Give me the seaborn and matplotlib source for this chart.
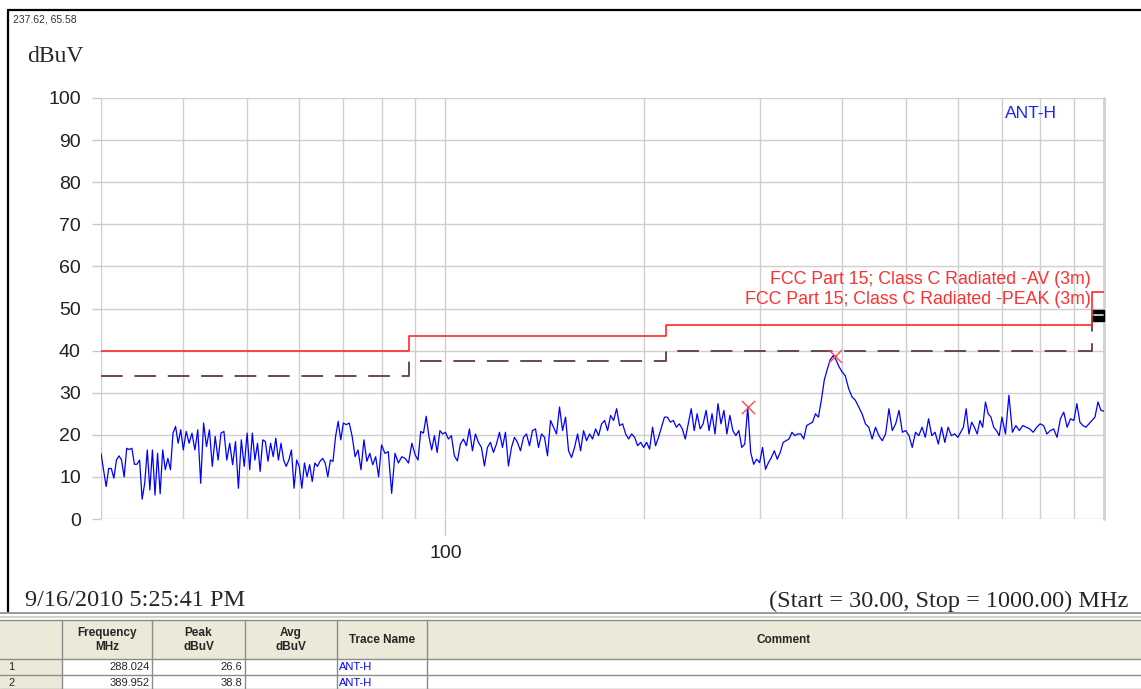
import numpy as np
import pandas as pd
import seaborn as sns
import matplotlib.pyplot as plt
from matplotlib.lines import Line2D
from matplotlib.patches import Rectangle

# ANT-H trace readings (dBuV), grouped by the grid decades they fall in
ANT_H_30_40 = [15.6, 11.7, 7.7, 12, 12, 9.7, 14, 15, 14, 10, 16.8, 16.5, 16.8, 13, 13, 14,
               4.7, 8.5, 16.4, 6.9, 16.4, 5.7, 15.6, 6, 16.4, 11.7, 14.4, 11.7, 20.4, 22, 18, 21.2]
ANT_H_40_50 = [16.4, 20.8, 18, 20.4, 16.4, 21.2, 8.5, 22.8, 17.2, 21.2, 12.5, 19.6, 14, 20.4,
               20.8, 14, 18, 12.9, 18.4, 7.3, 18.8, 12.5]
ANT_H_50_60 = [20.4, 11.7, 20.4, 14, 18, 11.3, 18.8, 18.4, 13.7, 18, 14.8, 19.2, 14, 18, 14,
               12.5, 14, 16.4, 7.3, 14]
ANT_H_60_70 = [12.5, 7.3, 13.3, 10, 12.9, 8.9, 13.3, 12.5, 13.7, 14.4, 13.3, 10, 14, 13.7,
               19.6, 23.2, 18.8]
ANT_H_70_80 = [22.8, 22.4, 22.8, 19.6, 14.8, 16.4, 11.7, 18.8, 13.7, 15.6, 12.9, 14.8, 10]
ANT_H_80_90 = [17.6, 15.6, 16, 6.1, 15.6, 13.3, 14.8, 14.4, 13.3, 18]
ANT_H_90_100 = [15.2, 14, 20.8, 20.4, 24.4, 19.6, 16.4, 19.8, 15.8, 21, 20.2]
ANT_H_100_200 = [20.6, 19, 19.8, 15, 13.8, 17.8, 19, 17.4, 21.4, 16.2, 20.2, 18.2, 17, 12.6,
                 17, 18.2, 15.8, 17.8, 20.6, 17, 20.6, 12.6, 17, 19.4, 18.2, 16.2, 19.4, 20.2,
                 17.4, 21, 21.4, 17, 20.2, 19.4, 15, 23.4, 21.8, 20.2, 26.6, 21, 24.2, 16.2,
                 14.6, 17, 20.2, 16.2, 21, 18.6, 20.2, 19, 21.4, 19.8, 22.6, 23.4, 21, 24.6,
                 23.4, 26.2, 22.2, 22.6, 20.2, 19, 20.2, 19.4, 17.4, 18.2]
ANT_H_200_300 = [17, 18.2, 16.6, 21.8, 17.4, 19.4, 21.8, 24.2, 24.2, 23, 23.4, 21.8, 22.6,
                 21.4, 19, 22.6, 26.2, 21, 25, 21.4, 22.6, 25.8, 21, 25, 20.2, 27.4, 22.6,
                 25.8, 20.2, 24.6, 21, 19.8, 21, 17, 17.8, 26.6, 15.8, 13, 14.2]
ANT_H_300_400 = [13.4, 17, 11.8, 13.4, 14.6, 16.2, 14.2, 15.8, 18.2, 18.6, 19, 20.6, 19.8,
                 20.2, 20.2, 19, 22.2, 22.6, 23, 25, 24.2, 28.2, 33, 35.5, 37.8, 38.8, 37.8, 36.2]
ANT_H_400_500 = [35, 34, 31, 29, 28.2, 26.6, 25, 22.6, 21.8, 19, 21.8, 19.8, 18.6, 20.2, 26.2,
                 21, 22.6, 25.8, 20.6]
ANT_H_500_600 = [21, 19.8, 17, 20.6, 19.8, 21.8, 19.4, 23.8, 19.8, 20.6, 17.8, 21.8, 18.2,
                 21.8, 19.8, 20.2]
ANT_H_600_700 = [19.4, 20.6, 21.8, 26.2, 20.2, 23, 21.8, 20.2, 23.4, 21.8, 27.8, 25, 24.2,
                 21.8, 21, 19.8]
ANT_H_700_800 = [24.2, 20.2, 29.4, 20.6, 22.2, 21, 22.2, 21.8, 21.4, 20.6, 21.8]
ANT_H_800_900 = [22.6, 22.2, 20.2, 21, 21.4, 19.4, 23.8, 25.4, 21.8, 23.8]
ANT_H_900_1000 = [23.4, 27.4, 23, 22.2, 21.8, 22.6, 23.4, 24.2, 27.8, 25.8, 25.6]

SEGMENTS = [
    (30, 40, ANT_H_30_40), (40, 50, ANT_H_40_50), (50, 60, ANT_H_50_60),
    (60, 70, ANT_H_60_70), (70, 80, ANT_H_70_80), (80, 90, ANT_H_80_90),
    (90, 100, ANT_H_90_100), (100, 200, ANT_H_100_200), (200, 300, ANT_H_200_300),
    (300, 400, ANT_H_300_400), (400, 500, ANT_H_400_500), (500, 600, ANT_H_500_600),
    (600, 700, ANT_H_600_700), (700, 800, ANT_H_700_800), (800, 900, ANT_H_800_900),
    (900, 1000, ANT_H_900_1000),
]

# FCC limit lines (step edges in MHz)
LIMIT_EDGES_MHZ = [30, 88, 216, 960, 1000]
PEAK_LIMIT_DBUV = [40, 43.5, 46, 54]
AV_LIMIT_DBUV = [34, 37.5, 40, 48]

# marker table
MARKER_FREQ_MHZ = [288.024, 389.952]
MARKER_PEAK_DBUV = [26.6, 38.8]
MARKER_TRACE = ["ANT-H", "ANT-H"]

X_MINOR = [30, 40, 50, 60, 70, 80, 90, 200, 300, 400, 500, 600, 700, 800, 900, 1000]
TABLE_HEADERS = ["Frequency\nMHz", "Peak\ndBuV", "Avg\ndBuV", "Trace Name", "Comment"]

W, H = 1141, 689


def fx(x):
    return x / W


def fy(y):
    return 1 - y / H


sns.set_theme(style="white")
plt.rcParams["font.family"] = ["Liberation Sans", "DejaVu Sans"]

frames = []
for i, (lo, hi, levels) in enumerate(SEGMENTS):
    last = i == len(SEGMENTS) - 1
    freqs = np.geomspace(lo, hi, len(levels), endpoint=last)
    frames.append(pd.DataFrame({"freq": freqs, "level": levels}))
trace = pd.concat(frames, ignore_index=True)

limits = pd.DataFrame({
    "freq": LIMIT_EDGES_MHZ,
    "peak": PEAK_LIMIT_DBUV + PEAK_LIMIT_DBUV[-1:],
    "av": AV_LIMIT_DBUV + AV_LIMIT_DBUV[-1:],
})

fig = plt.figure(figsize=(W / 100, H / 100), dpi=100)
fig.patch.set_facecolor("white")
ax = fig.add_axes([fx(101), fy(519), fx(1104) - fx(101), fy(98) - fy(519)])
ax.set_xscale("log")

sns.lineplot(data=limits, x="freq", y="av", ax=ax, color="#5e3c3c", lw=1.3,
             drawstyle="steps-post", estimator=None, sort=False, dashes=False,
             linestyle=(0, (12, 6.5)))
sns.lineplot(data=limits, x="freq", y="peak", ax=ax, color="#ff2a2a", lw=1.2,
             drawstyle="steps-post", estimator=None, sort=False)
sns.lineplot(data=trace, x="freq", y="level", ax=ax, color="#0000ff", lw=0.9,
             estimator=None, sort=False)
ax.scatter(MARKER_FREQ_MHZ, MARKER_PEAK_DBUV, marker="x", s=90, color="#ff4a4a",
           linewidths=1.0, zorder=5)

ax.set_xlim(30, 1000)
ax.set_ylim(0, 100)
ax.set_xlabel("")
ax.set_ylabel("")
for sp in ax.spines.values():
    sp.set_visible(False)
ax.set_axisbelow(True)

ax.set_yticks(range(0, 101, 10))
ax.set_xticks([100], ["100"])
ax.set_xticks(X_MINOR, minor=True)
ax.xaxis.set_minor_formatter(plt.NullFormatter())
ax.tick_params(axis="x", which="minor", length=0, bottom=False)
ax.tick_params(axis="x", which="major", bottom=True, length=11.5, width=1, color="#c8c8c8",
               pad=7, labelsize=14, labelcolor="#222222")
ax.tick_params(axis="y", left=True, length=6.5, width=1, color="#c8c8c8", pad=8,
               labelsize=14, labelcolor="#222222")
ax.grid(True, which="both", axis="both", color="#cfcfcf", lw=1.0)
ax.axvline(1000, color="#d0d0d0", lw=2.0, clip_on=False, zorder=1)

# text annotations
fig.text(fx(1005), fy(113), "ANT-H", color="#2020ff", fontsize=12.5, va="center")
fig.text(fx(1091), fy(280), "FCC Part 15; Class C Radiated -AV (3m)", color="#ff3030",
         fontsize=12.8, ha="right", va="center")
fig.text(fx(1091), fy(299), "FCC Part 15; Class C Radiated -PEAK (3m)", color="#ff3030",
         fontsize=12.8, ha="right", va="center")
fig.patches.append(Rectangle((fx(1093), fy(321)), fx(11), fy(0) - fy(11),
                             transform=fig.transFigure, facecolor="black", edgecolor="black"))
fig.add_artist(Line2D([fx(1094), fx(1103)], [fy(315), fy(315)], color="#c8e8ff", lw=1.2,
                      transform=fig.transFigure))

fig.text(fx(13), fy(19), "237.62, 65.58", fontsize=7.5, color="#333333", va="center")
fig.text(fx(27), fy(56), "dBuV", fontsize=17, family="Liberation Serif", va="center")
fig.text(fx(25), fy(601), "9/16/2010 5:25:41 PM", fontsize=17.5, family="Liberation Serif",
         va="center")
fig.text(fx(1128), fy(601), "(Start = 30.00, Stop = 1000.00) MHz", fontsize=17.5,
         family="Liberation Serif", ha="right", va="center")

# window frame and separator
fig.add_artist(Line2D([fx(8), 1], [fy(10), fy(10)], color="black", lw=1.6,
                      transform=fig.transFigure))
fig.add_artist(Line2D([fx(8), fx(8)], [fy(10), fy(612)], color="black", lw=1.6,
                      transform=fig.transFigure))
fig.add_artist(Line2D([0, 1], [fy(613), fy(613)], color="#9a9a9a", lw=1.4,
                      transform=fig.transFigure))
fig.add_artist(Line2D([0, 1], [fy(617), fy(617)], color="#d4d0c8", lw=1.4,
                      transform=fig.transFigure))

# marker table
tax = fig.add_axes([0, 0, 1, fy(619)])
tax.set_xlim(0, W)
tax.set_ylim(H, 619)
tax.axis("off")
beige = "#ece9d8"
col_edges = [0, 62, 152, 245, 337, 427, W]
row_tops = [659, 675]
tax.add_patch(Rectangle((0, 620), W, 39, facecolor=beige, edgecolor="none", lw=0))
tax.add_patch(Rectangle((0, 659), 62, 30, facecolor=beige, edgecolor="none", lw=0))
for y in [620, 659, 675, 689]:
    tax.plot([0, W], [y, y], color="#8c8c8c", lw=1)
for x in col_edges[1:-1]:
    tax.plot([x, x], [620, 689], color="#8c8c8c", lw=1)
hdr_font = ["Liberation Sans Narrow", "Liberation Sans", "DejaVu Sans"]
for i, label in enumerate(TABLE_HEADERS):
    cx = (col_edges[i + 1] + col_edges[i + 2]) / 2
    tax.text(cx, 640, label, ha="center", va="center", fontsize=8.5, fontweight="bold",
             family=hdr_font, linespacing=1.3)
for r, (f, p, name) in enumerate(zip(MARKER_FREQ_MHZ, MARKER_PEAK_DBUV, MARKER_TRACE)):
    yc = row_tops[r] + 8
    tax.text(8, yc, str(r + 1), ha="left", va="center", fontsize=8, family=hdr_font)
    tax.text(150, yc, f"{f:.3f}", ha="right", va="center", fontsize=8, family=hdr_font)
    tax.text(242, yc, f"{p:.1f}", ha="right", va="center", fontsize=8, family=hdr_font)
    tax.text(339, yc, name, ha="left", va="center", fontsize=8, color="#0000ff",
             family=hdr_font)

fig.savefig("out.png", dpi=100)
